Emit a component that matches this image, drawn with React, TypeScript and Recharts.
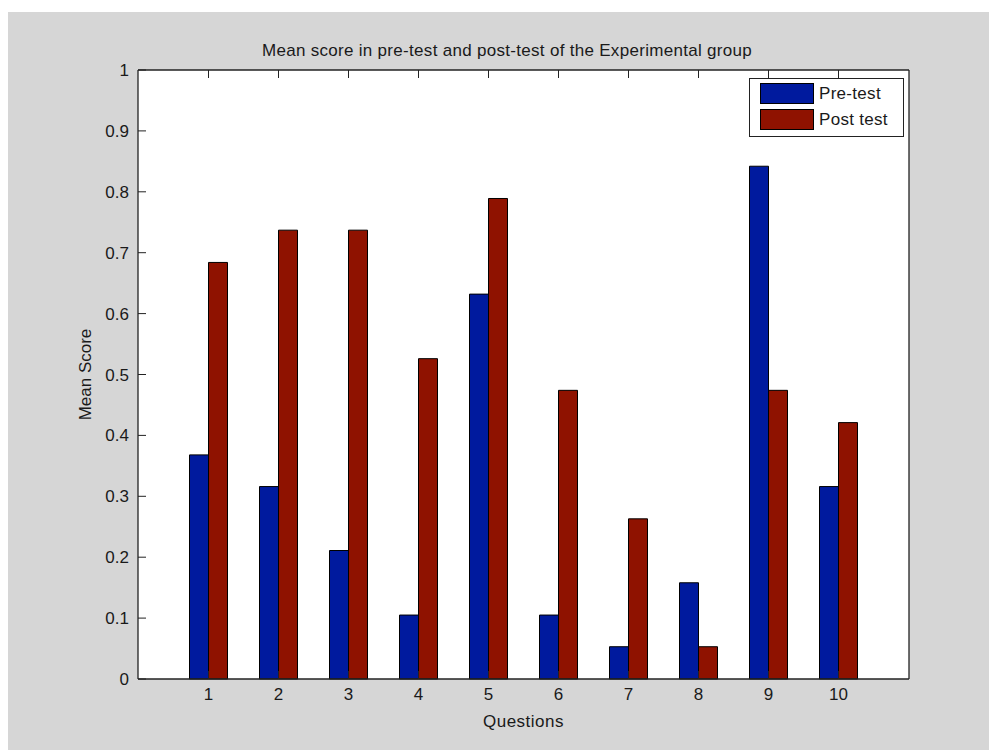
import React from 'react';
import { BarChart, Bar, XAxis, YAxis, CartesianGrid, Legend } from 'recharts';

// question numbers on the x axis
const questions = ['1', '2', '3', '4', '5', '6', '7', '8', '9', '10'];
// mean scores
const preTest = [0.368, 0.316, 0.211, 0.105, 0.632, 0.105, 0.053, 0.158, 0.842, 0.316];
const postTest = [0.684, 0.737, 0.737, 0.526, 0.789, 0.474, 0.263, 0.053, 0.474, 0.421];
const yTicks = [0, 0.1, 0.2, 0.3, 0.4, 0.5, 0.6, 0.7, 0.8, 0.9, 1];
const yTickLabels = ['0', '0.1', '0.2', '0.3', '0.4', '0.5', '0.6', '0.7', '0.8', '0.9', '1'];

const data = questions.map((q, i) => ({ q, pre: preTest[i], post: postTest[i] }));

const FONT = '"Liberation Sans", Arial, Helvetica, sans-serif';
const INK = '#1a1a1a';
const PRE = '#001a9e';
const POST = '#8f1200';

const tickStyle = { fill: INK, fontSize: 17, fontFamily: FONT };
const emptyTick = () => <g />;

const LegendBox = () => (
    <div
        style={{
            background: '#fff',
            border: '1px solid #222',
            padding: '4px 15px 6px 10px',
            fontFamily: FONT,
            fontSize: 17,
            color: INK,
        }}
    >
        {[
            { label: 'Pre-test', color: PRE },
            { label: 'Post test', color: POST },
        ].map((it, i) => (
            <div key={it.label} style={{ display: 'flex', alignItems: 'center', height: 21, marginTop: i ? 5 : 0 }}>
                <div style={{ width: 52, height: 19, background: it.color, border: '1px solid #000' }} />
                <span style={{ marginLeft: 5, letterSpacing: 0.3 }}>{it.label}</span>
            </div>
        ))}
    </div>
);

const App: React.FC = () => {
    return (
        <div
            style={{
                position: 'absolute',
                left: 8,
                top: 12,
                width: 981,
                height: 738,
                background: '#d6d6d6',
                fontFamily: FONT,
            }}
        >
            <div
                style={{
                    position: 'absolute',
                    left: 99,
                    width: 800,
                    top: 29,
                    textAlign: 'center',
                    fontSize: 17,
                    letterSpacing: 0.3,
                    color: INK,
                    lineHeight: '20px',
                }}
            >
                Mean score in pre-test and post-test of the Experimental group
            </div>
            <BarChart
                width={981}
                height={738}
                data={data}
                margin={{ top: 48, right: 70, left: 70, bottom: 41 }}
                barGap={0}
                barSize={19}
            >
                <CartesianGrid fill="#fff" horizontal={false} vertical={false} />
                <XAxis
                    dataKey="q"
                    height={30}
                    padding={{ left: 35.5, right: 35.5 }}
                    tickSize={-8}
                    tickMargin={17}
                    tick={tickStyle}
                    axisLine={{ stroke: '#222', strokeWidth: 1.3 }}
                    tickLine={{ stroke: '#222' }}
                    label={{ value: 'Questions', position: 'bottom', offset: 6, fill: INK, fontSize: 17, fontFamily: FONT, letterSpacing: 0.5 }}
                />
                <XAxis
                    xAxisId="top"
                    dataKey="q"
                    orientation="top"
                    height={10}
                    padding={{ left: 35.5, right: 35.5 }}
                    tickSize={-8}
                    tick={emptyTick}
                    axisLine={{ stroke: '#222', strokeWidth: 1.3 }}
                    tickLine={{ stroke: '#222' }}
                />
                <YAxis
                    width={60}
                    domain={[0, 1]}
                    ticks={yTicks}
                    tickFormatter={(v: number) => yTickLabels[yTicks.indexOf(v)] ?? String(v)}
                    tickSize={-8}
                    tickMargin={17}
                    tick={tickStyle}
                    axisLine={{ stroke: '#222', strokeWidth: 1.3 }}
                    tickLine={{ stroke: '#222' }}
                    label={{
                        value: 'Mean Score',
                        content: ({ viewBox }: any) => {
                            const x = viewBox.x + 13;
                            const y = viewBox.y + viewBox.height / 2;
                            return (
                                <text
                                    x={x}
                                    y={y}
                                    transform={`rotate(-90, ${x}, ${y})`}
                                    textAnchor="middle"
                                    fill={INK}
                                    fontSize={17}
                                    fontFamily={FONT}
                                >
                                    Mean Score
                                </text>
                            );
                        },
                    }}
                />
                <YAxis
                    yAxisId="right"
                    orientation="right"
                    width={10}
                    domain={[0, 1]}
                    ticks={yTicks}
                    tickSize={-8}
                    tick={emptyTick}
                    axisLine={{ stroke: '#222', strokeWidth: 1.3 }}
                    tickLine={{ stroke: '#222' }}
                />
                <Legend
                    layout="vertical"
                    align="center"
                    verticalAlign="middle"
                    content={() => <LegendBox />}
                    wrapperStyle={{ left: 741, top: 66, width: 'auto', height: 'auto' }}
                />
                <Bar dataKey="pre" name="Pre-test" fill={PRE} stroke="#000" strokeWidth={1} isAnimationActive={false} />
                <Bar dataKey="post" name="Post test" fill={POST} stroke="#000" strokeWidth={1} isAnimationActive={false} />
            </BarChart>
        </div>
    );
};

export default App;
